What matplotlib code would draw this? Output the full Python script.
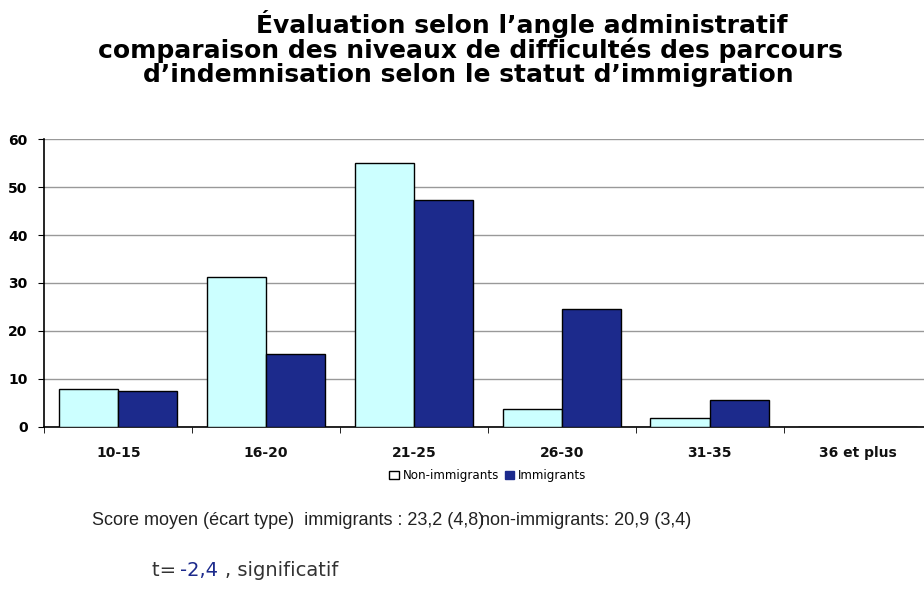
import numpy as np
import matplotlib
matplotlib.use("Agg")
import matplotlib.pyplot as plt
from matplotlib.patches import Patch

plt.rcParams['font.family'] = ['DejaVu Sans']

# Données
categories = ["10-15", "16-20", "21-25", "26-30", "31-35", "36 et plus"]
non_immigrants = [7.9, 31.3, 55.0, 3.8, 1.8, 0]
immigrants = [7.5, 15.1, 47.2, 24.5, 5.6, 0]

col_non = "#CCFFFF"
col_imm = "#1C2A8C"

fig = plt.figure(figsize=(9.24, 5.92), dpi=100)
ax = fig.add_axes([0.048, 0.279, 0.96, 0.486])

x = np.arange(len(categories))
w = 0.4
ax.bar(x - w / 2, non_immigrants, w, color=col_non, edgecolor="black", linewidth=1.0, zorder=3)
ax.bar(x + w / 2, immigrants, w, color=col_imm, edgecolor="black", linewidth=1.0, zorder=3)

ax.set_xlim(-0.5, len(categories) - 0.5)
ax.set_ylim(0, 60)
ax.set_yticks(range(0, 61, 10))
ax.set_xticks(x)
ax.set_xticklabels(categories, fontweight="bold", fontsize=10, color="#111111")
ax.set_xticks(np.arange(-0.5, len(categories) - 0.4, 1), minor=True)
ax.tick_params(axis="x", which="major", length=0, pad=14)
ax.tick_params(axis="x", which="minor", length=4, direction="out")
ax.tick_params(axis="y", labelsize=10, length=4, direction="out", pad=8)
for lab in ax.get_yticklabels():
    lab.set_fontweight("bold")
ax.grid(axis="y", color="#999999", linewidth=1.0, zorder=0)
for s in ["top", "right"]:
    ax.spines[s].set_visible(False)
ax.spines["left"].set_linewidth(1.2)
ax.spines["bottom"].set_linewidth(1.2)

# Titre
fig.text(0.565, 0.944, "Évaluation selon l’angle administratif", ha="center", va="baseline",
         fontsize=18, fontweight="bold")
fig.text(0.509, 0.902, "comparaison des niveaux de difficultés des parcours", ha="center", va="baseline",
         fontsize=18, fontweight="bold")
fig.text(0.507, 0.861, "d’indemnisation selon le statut d’immigration", ha="center", va="baseline",
         fontsize=18, fontweight="bold")

# Légende
handles = [Patch(facecolor="white", edgecolor="black", label="Non-immigrants"),
           Patch(facecolor=col_imm, edgecolor=col_imm, label="Immigrants")]
fig.legend(handles=handles, loc="center", bbox_to_anchor=(0.528, 0.196), ncol=2, frameon=False,
           fontsize=8.6, handlelength=0.8, handleheight=0.6, handletextpad=0.3, columnspacing=0.5)

# Textes
fig.text(0.1, 0.12, "Score moyen (écart type)  immigrants : 23,2 (4,8)", fontsize=13, va="center",
         color="#222222", family="Liberation Sans")
fig.text(0.52, 0.12, "non-immigrants: 20,9 (3,4)", fontsize=13, va="center", color="#222222",
         family="Liberation Sans")
fig.text(0.164, 0.037, "t= ", fontsize=14, va="center", color="#333333")
fig.text(0.195, 0.037, "-2,4", fontsize=14, va="center", color="#1C2A8C")
fig.text(0.243, 0.037, ", significatif", fontsize=14, va="center", color="#333333")

fig.savefig("out.png", dpi=100)
